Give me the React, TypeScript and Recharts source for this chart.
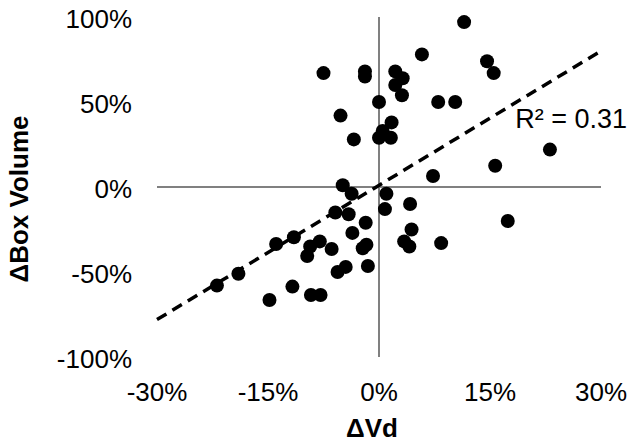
import {
  ScatterChart,
  Scatter,
  XAxis,
  YAxis,
  ReferenceLine,
  ReferenceDot,
} from 'recharts'

// ΔVd (%) and ΔBox Volume (%) per subject
const DELTA_VD = [
  -7.5, -1.9, -1.9, 0, -5.2, -3.4, 0, 1.7, 1.6, 0.5, -4.9, 11.5, 5.8, 2.2, 3.2, 2.2, 3.1, 14.6,
  15.5, 8.0, 10.3, 23.1, 15.7, 7.3, 1.0, 0.8, 4.2, 17.4, 4.4, 3.4, 4.1, 8.4, -3.7, -5.9, -4.1,
  -1.8, -3.6, -1.7, -2.2, -6.4, -8.0, -9.3, -9.7, -11.5, -13.9, -19.0, -21.9, -4.5, -5.6, -1.5,
  -11.7, -9.2, -7.9, -14.8,
]
const DELTA_BOX = [
  67, 68, 65, 50, 42, 28, 29, 38, 29, 33, 1, 97, 78, 68, 64, 60, 54, 74,
  67, 50, 50, 22, 12.5, 6.5, -4, -13, -10, -20, -25, -32, -35, -33, -4, -15, -16,
  -21, -27, -34, -36, -36.5, -32, -35, -40.6, -29.6, -33.5, -51, -58, -47, -50, -46.5,
  -58.6, -63.5, -63.5, -66.5,
]

const X_TICKS = [-30, -15, 0, 15, 30]
const Y_TICKS = [-100, -50, 0, 50, 100]

// linear trend line end points
const TREND = [
  { x: -30, y: -78 },
  { x: 30, y: 80 },
]
const R2_LABEL = 'R² = 0.31'

const FONT = '"Liberation Sans", Arial, sans-serif'

const points = DELTA_VD.map((x, i) => ({ x, y: DELTA_BOX[i] }))

const Dot = (props: any) => <circle cx={props.cx} cy={props.cy} r={7} fill="#000" />

export default function App() {
  return (
    <div style={{ position: 'absolute', left: 0, top: 0, background: '#fff' }}>
      <ScatterChart width={634} height={445} margin={{ top: 17, right: 33, bottom: 0, left: 0 }}>
        <XAxis
          type="number"
          dataKey="x"
          domain={[-30, 30]}
          ticks={X_TICKS}
          tickFormatter={v => `${v}%`}
          height={88}
          axisLine={false}
          tickLine={false}
          tickSize={0}
          tickMargin={26}
          tick={{ fill: '#000', fontSize: 26, fontFamily: FONT }}
          label={{
            content: () => (
              <text x={372} y={437} textAnchor="middle" fontSize={26} fontWeight="bold" fontFamily={FONT} fill="#000">
                ΔVd
              </text>
            ),
          }}
        />
        <YAxis
          type="number"
          dataKey="y"
          domain={[-100, 100]}
          ticks={Y_TICKS}
          tickFormatter={v => `${v}%`}
          width={157}
          axisLine={false}
          tickLine={false}
          tickSize={0}
          tickMargin={25}
          tick={{ fill: '#000', fontSize: 26, fontFamily: FONT, dy: 2 }}
          label={{
            content: () => (
              <text
                x={28}
                y={199}
                transform="rotate(-90 28 199)"
                textAnchor="middle"
                fontSize={26}
                fontWeight="bold"
                fontFamily={FONT}
                fill="#000"
              >
                ΔBox Volume
              </text>
            ),
          }}
        />
        <ReferenceLine x={0} stroke="#808080" strokeWidth={2} />
        <ReferenceLine y={0} stroke="#808080" strokeWidth={2} />
        <ReferenceLine
          segment={TREND}
          stroke="#000"
          strokeWidth={3.5}
          strokeDasharray="11 7"
        />
        <Scatter data={points} shape={Dot} isAnimationActive={false} />
        <ReferenceDot
          x={18.4}
          y={35}
          r={0}
          shape={(p: any) => (
            <text x={p.cx} y={p.cy} fontSize={27} fontFamily={FONT} fill="#000">
              {R2_LABEL}
            </text>
          )}
        />
      </ScatterChart>
    </div>
  )
}
